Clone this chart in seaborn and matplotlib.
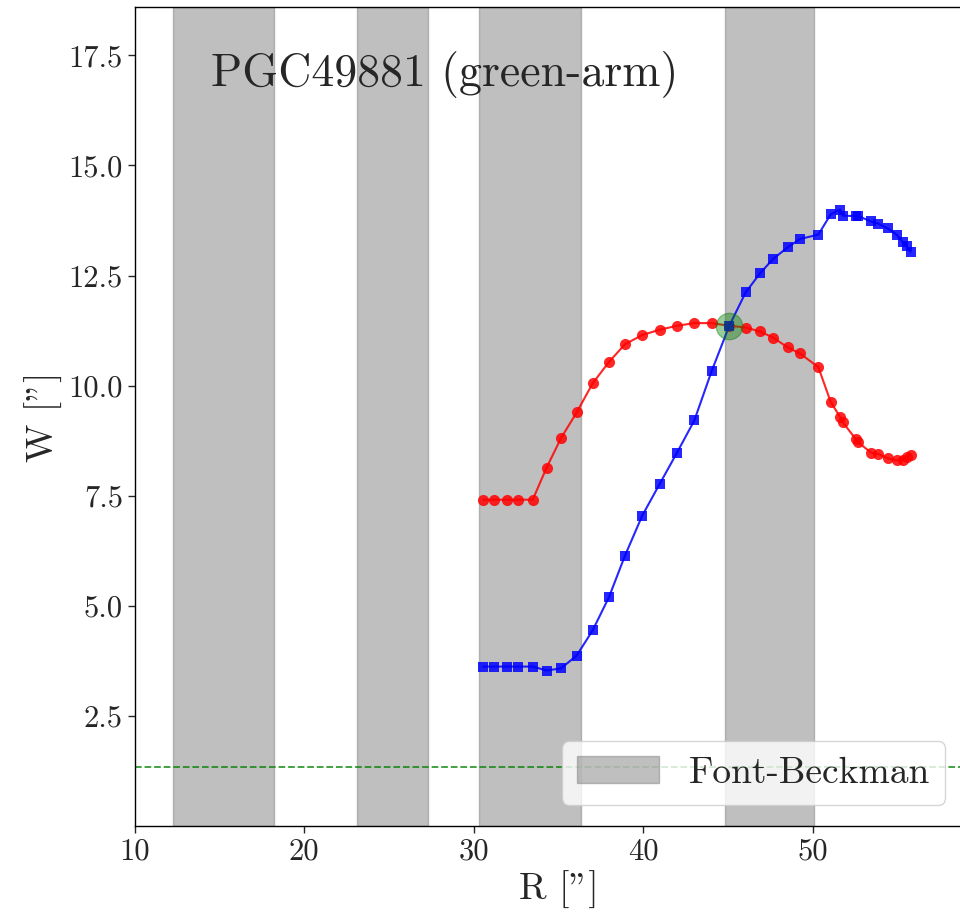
import numpy as np
import matplotlib
matplotlib.use('Agg')
import matplotlib.pyplot as plt
import seaborn as sns

# Radios compartidos por ambas curvas
radio = [30.56, 31.20, 31.93, 32.62, 33.47, 34.29, 35.14, 36.06, 37.00, 37.97,
         38.91, 39.93, 40.96, 41.98, 43.00, 44.02, 45.06, 46.03, 46.87, 47.65,
         48.50, 49.23, 50.31, 51.04, 51.59, 51.75, 52.51, 52.67, 53.41, 53.84,
         54.40, 54.93, 55.28, 55.52, 55.75]

ancho_rojo = [7.41, 7.41, 7.41, 7.41, 7.41, 8.14, 8.81, 9.39, 10.05, 10.54,
              10.94, 11.15, 11.27, 11.36, 11.42, 11.42, 11.36, 11.32, 11.23, 11.09,
              10.87, 10.73, 10.42, 9.63, 9.29, 9.17, 8.79, 8.71, 8.48, 8.45,
              8.35, 8.30, 8.32, 8.38, 8.43]

ancho_azul = [3.62, 3.62, 3.62, 3.62, 3.62, 3.53, 3.58, 3.87, 4.44, 5.20,
              6.14, 7.05, 7.77, 8.48, 9.21, 10.33, 11.36, 12.12, 12.55, 12.88,
              13.14, 13.33, 13.43, 13.89, 14.00, 13.86, 13.85, 13.85, 13.73, 13.68,
              13.57, 13.43, 13.26, 13.17, 13.04]

# Intervalos Font-Beckman
bandas = [(12.25, 18.2), (23.1, 27.3), (30.3, 36.3), (44.8, 50.05)]
cruce = (45.06, 11.36)
nivel_minimo = 1.33

sns.set_style('ticks')
plt.rcParams['font.family'] = ['cmr10', 'DejaVu Serif']
plt.rcParams['axes.formatter.use_mathtext'] = True
plt.rcParams['mathtext.fontset'] = 'cm'

fig = plt.figure(figsize=(9.6, 9.15), dpi=100)
ax = fig.add_axes([0.1403, 0.0973, 0.8833, 0.8951])

for i, (a, b) in enumerate(bandas):
    ax.axvspan(a, b, color='grey', alpha=0.5, label='Font-Beckman' if i == 0 else None)

sns.lineplot(x=radio, y=ancho_rojo, ax=ax, color='red', marker='o', markersize=8,
             markeredgewidth=0, alpha=0.85, linewidth=1.5, sort=False)
sns.lineplot(x=radio, y=ancho_azul, ax=ax, color='blue', marker='s', markersize=7.5,
             markeredgewidth=0, alpha=0.85, linewidth=1.5, sort=False)
ax.plot([cruce[0]], [cruce[1]], 'o', color='green', alpha=0.4, markersize=19)
ax.axhline(nivel_minimo, color='green', linestyle='--', linewidth=1.3, alpha=0.8)

ax.text(28.3, 17.07, 'PGC49881 (green-arm)', fontsize=33, ha='center', va='center')

ax.set_xlim(10, 60)
ax.set_ylim(0, 18.6)
ax.set_xticks([10, 20, 30, 40, 50])
ax.set_yticks([2.5, 5.0, 7.5, 10.0, 12.5, 15.0, 17.5])
ax.set_xticklabels(['10', '20', '30', '40', '50'])
ax.set_yticklabels(['2.5', '5.0', '7.5', '10.0', '12.5', '15.0', '17.5'])
ax.tick_params(labelsize=22, length=5, width=1)
ax.set_xlabel('R ["]', fontsize=27)
ax.set_ylabel('W ["]', fontsize=27)
for s in ax.spines.values():
    s.set_color('black')
    s.set_linewidth(1)

ax.legend(loc='lower right', bbox_to_anchor=(0.956, 0.026), borderaxespad=0,
          fontsize=27, framealpha=0.8, handlelength=2.2)

fig.savefig('out.png', dpi=100)
